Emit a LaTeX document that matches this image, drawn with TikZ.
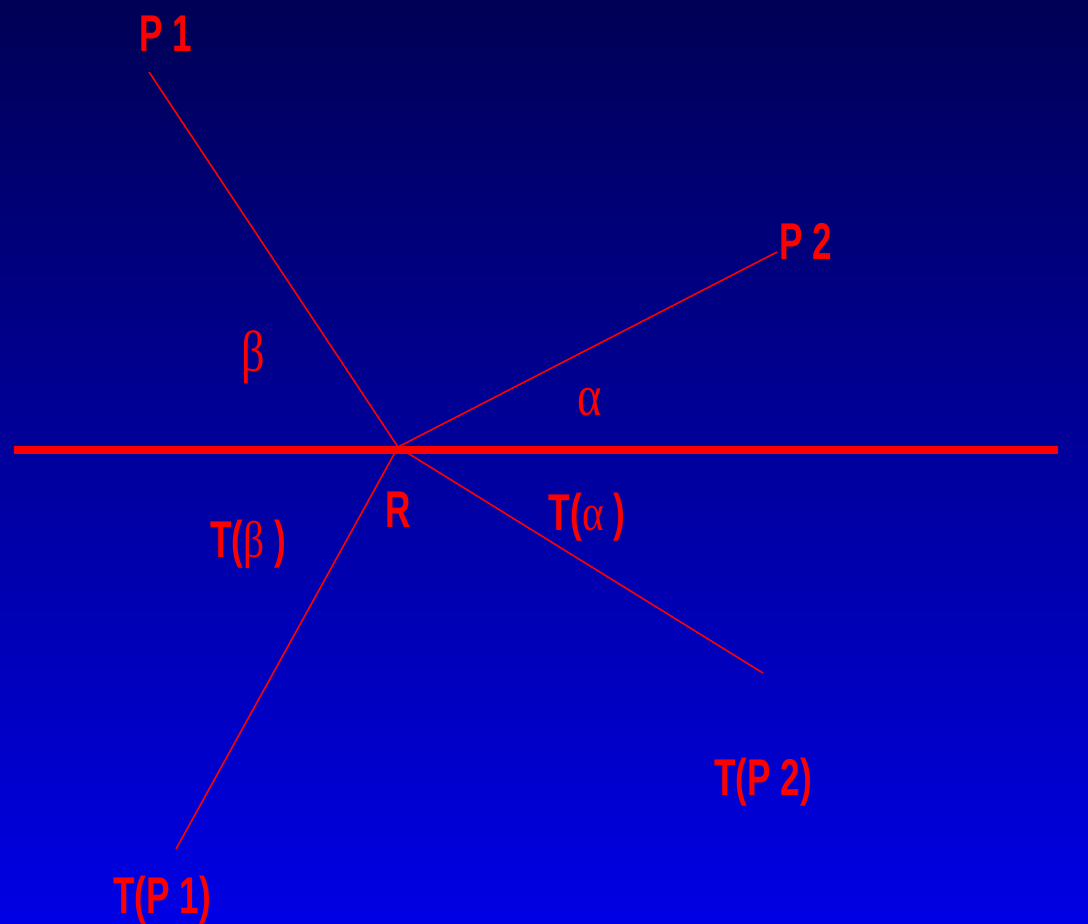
\documentclass[tikz,border=0pt]{standalone}
\usepackage{fontspec}
\setmainfont{Liberation Sans}[FakeStretch=0.68]
\newfontfamily\greekfont[FakeStretch=0.8]{Liberation Serif}
\newcommand{\gk}[1]{{\greekfont\mdseries #1}}
\definecolor{skytop}{RGB}{0,0,85}
\definecolor{skybot}{RGB}{0,0,228}
\begin{document}
\begin{tikzpicture}[x=0.01cm,y=-0.01cm,
  lbl/.style={text=red,font=\fontsize{14.7}{16}\selectfont\bfseries,inner sep=0pt,anchor=base},
  ang/.style={text=red,font=\fontsize{16.5}{18}\selectfont\greekfont,inner sep=0pt,anchor=base},
  ray/.style={red,line width=0.45pt},
  mirror/.style={red,line width=2.3pt}]
  \shade[top color=skytop,bottom color=skybot] (0,0) rectangle (1088,923);
  \useasboundingbox (0,0) rectangle (1088,923);
  % points
  \coordinate (R) at (398,447);
  \coordinate (mleft) at (14,450);
  \coordinate (mright) at (1058,450);
  \coordinate (p1) at (149,72);
  \coordinate (p2) at (777,252);
  \coordinate (tp1) at (176,849);
  \coordinate (tp2) at (763,673);
  % lines
  \draw[mirror] (mleft) -- (mright);
  \draw[ray] (p1) -- (R) -- (p2);
  \draw[ray] (R) -- (tp1);
  \draw[ray] (R) -- (tp2);
  % labels
  \node[lbl] (lp1) at (166,51) {P 1};
  \node[lbl] (lp2) at (806,259) {P 2};
  \node[lbl] (lr) at (398,527) {R};
  \node[ang] (lbeta) at (253,371) {β};
  \node[ang] (lalpha) at (590,415) {α};
  \node[lbl] (ltalpha) at (587,530) {T(\gk{α} )};
  \node[lbl] (ltbeta) at (248,557) {T(\gk{β} )};
  \node[lbl] (ltp2) at (763,795) {T(P 2)};
  \node[lbl] (ltp1) at (162,913) {T(P 1)};
\end{tikzpicture}
\end{document}
